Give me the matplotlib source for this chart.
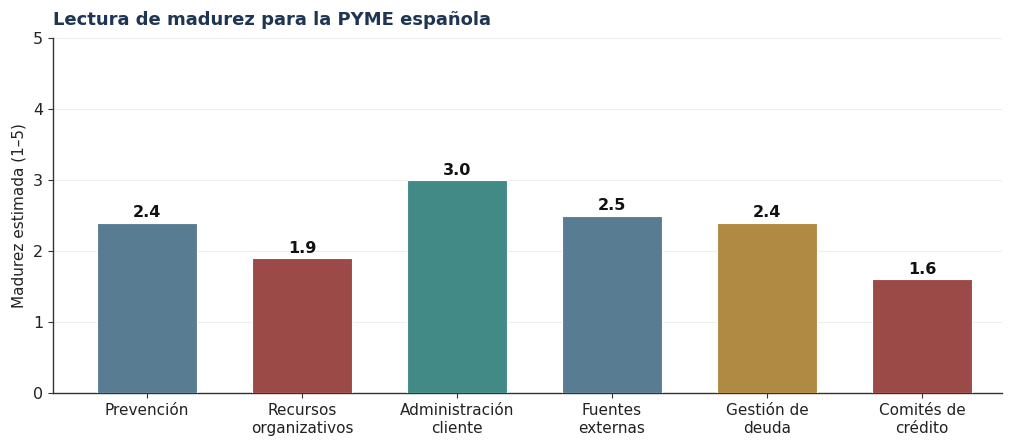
import matplotlib
matplotlib.use("Agg")
import matplotlib.pyplot as plt

categories = ["Prevención", "Recursos\norganizativos", "Administración\ncliente",
              "Fuentes\nexternas", "Gestión de\ndeuda", "Comités de\ncrédito"]
values = [2.4, 1.9, 3.0, 2.5, 2.4, 1.6]
colors = ["#587d93", "#9b4a47", "#428a86", "#587d93", "#b08a43", "#9b4a47"]

fig = plt.figure(figsize=(10.24, 4.43), dpi=100)
ax = fig.add_axes([53/1024, 1-393/443, (1002-53)/1024, (393-38)/443])
x = list(range(len(categories)))
bars = ax.bar(x, values, width=0.645, color=colors, edgecolor="white", linewidth=0.8, zorder=3)
for xi, v in zip(x, values):
    ax.text(xi, v + 0.03, f"{v:.1f}", ha="center", va="bottom", fontsize=11.5,
            fontweight="bold", color="#111111", zorder=4)
ax.set_ylim(0, 5)
ax.set_xlim(-0.606, 5.516)
ax.set_yticks([0, 1, 2, 3, 4, 5])
ax.set_xticks(x)
ax.set_xticklabels(categories, fontsize=11, color="#222222", linespacing=1.25)
ax.tick_params(axis="y", labelsize=11.5, colors="#222222")
ax.tick_params(axis="both", color="#333333")
ax.set_ylabel("Madurez estimada (1–5)", fontsize=11, color="#222222", labelpad=5)
ax.yaxis.grid(True, color="#eeeeee", linewidth=0.8, zorder=0)
ax.set_axisbelow(True)
for s in ["top", "right"]:
    ax.spines[s].set_visible(False)
for s in ["left", "bottom"]:
    ax.spines[s].set_color("#333333")
    ax.spines[s].set_linewidth(1.0)
fig.text(53/1024, 1-20/443, "Lectura de madurez para la PYME española", fontsize=13,
         fontweight="bold", color="#1f3552", ha="left", va="center")
fig.savefig("out.png", dpi=100)
